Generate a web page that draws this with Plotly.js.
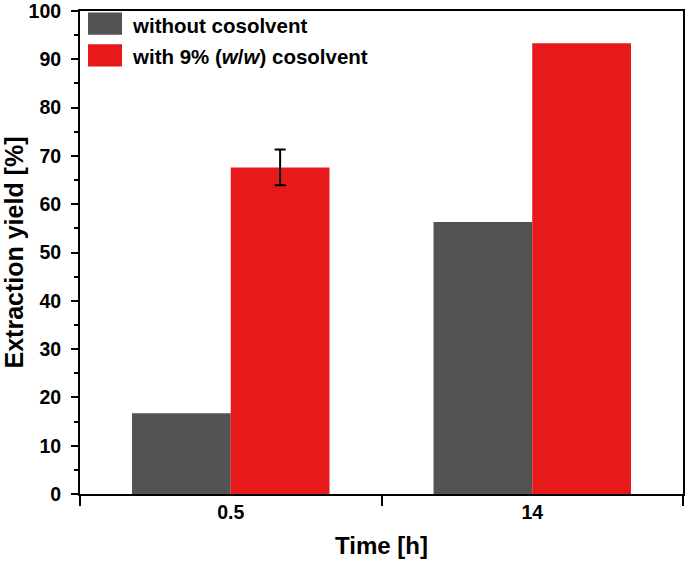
<!DOCTYPE html>
<html>
<head>
<meta charset="utf-8">
<script src="https://cdn.plot.ly/plotly-3.0.1.min.js"></script>
<style>
  html, body { margin: 0; padding: 0; background: #fff; }
  #chart { width: 685px; height: 568px; }
</style>
</head>
<body>
<div id="chart"></div>
<script>
// Extraction yield vs time, with and without cosolvent
const times = ['0.5', '14'];
const yieldNoCosolvent = [16.7, 56.3];
const yieldCosolvent = [67.6, 93.3];
const errCosolvent = [3.7, NaN];   // only the 0.5 h run has an error bar
const seriesNames = ['without cosolvent', 'with 9% (<i>w</i>/<i>w</i>) cosolvent'];
const seriesColors = ['#535353', '#e8191a'];

const FONT = 'Arial, "Liberation Sans", sans-serif';

const data = [
    { x: times, y: yieldNoCosolvent, type: 'bar', name: seriesNames[0],
      marker: { color: seriesColors[0] }, showlegend: false },
    { x: times, y: yieldCosolvent, type: 'bar', name: seriesNames[1],
      marker: { color: seriesColors[1] }, showlegend: false,
      error_y: { type: 'data', array: errCosolvent, visible: true, color: '#000', thickness: 2, width: 5.5 } }
];

// hand-built legend: big swatches like the original figure
const shapes = [];
const annotations = [];
seriesNames.forEach((name, i) => {
    const yTop = 0.997 - i * 0.066;
    shapes.push({ type: 'rect', xref: 'paper', yref: 'paper',
        x0: 0.0133, x1: 0.0697, y0: yTop - 0.046, y1: yTop,
        fillcolor: seriesColors[i], line: { width: 0 } });
    annotations.push({ xref: 'paper', yref: 'paper', x: 0.0826, y: yTop - 0.026,
        xanchor: 'left', yanchor: 'middle', showarrow: false, text: name,
        font: { family: FONT, size: 20.5, color: '#000', weight: 'bold' } });
});

const layout = {
    width: 685, height: 568,
    margin: { l: 80, r: 2, t: 11, b: 74 },
    paper_bgcolor: '#fff', plot_bgcolor: '#fff',
    barmode: 'group', bargap: 0.345, bargroupgap: 0,
    font: { family: FONT, color: '#000', weight: 'bold' },
    xaxis: {
        type: 'category', range: [-0.5, 1.5],
        showline: true, linecolor: '#000', linewidth: 2, mirror: true,
        ticks: 'outside', tickson: 'boundaries', ticklen: 10, tickwidth: 2, tickcolor: '#000',
        tickfont: { family: FONT, size: 19.5, color: '#000', weight: 'bold' },
        title: { text: 'Time [h]', standoff: 15, font: { family: FONT, size: 24, color: '#000', weight: 'bold' } },
        showgrid: false, zeroline: false
    },
    yaxis: {
        range: [0, 100], dtick: 10,
        showline: true, linecolor: '#000', linewidth: 2, mirror: true,
        ticks: 'outside', ticklen: 7, tickwidth: 2, tickcolor: '#000',
        ticklabelstandoff: 6, ticklabeloverflow: 'allow',
        minor: { dtick: 5, ticks: 'outside', ticklen: 4, tickwidth: 2, tickcolor: '#000' },
        tickfont: { family: FONT, size: 19.5, color: '#000', weight: 'bold' },
        title: { text: 'Extraction yield [%]', standoff: 8, font: { family: FONT, size: 25, color: '#000', weight: 'bold' } },
        showgrid: false, zeroline: false
    },
    shapes: shapes,
    annotations: annotations
};

Plotly.newPlot('chart', data, layout, { displayModeBar: false, staticPlot: true });
</script>
</body>
</html>
